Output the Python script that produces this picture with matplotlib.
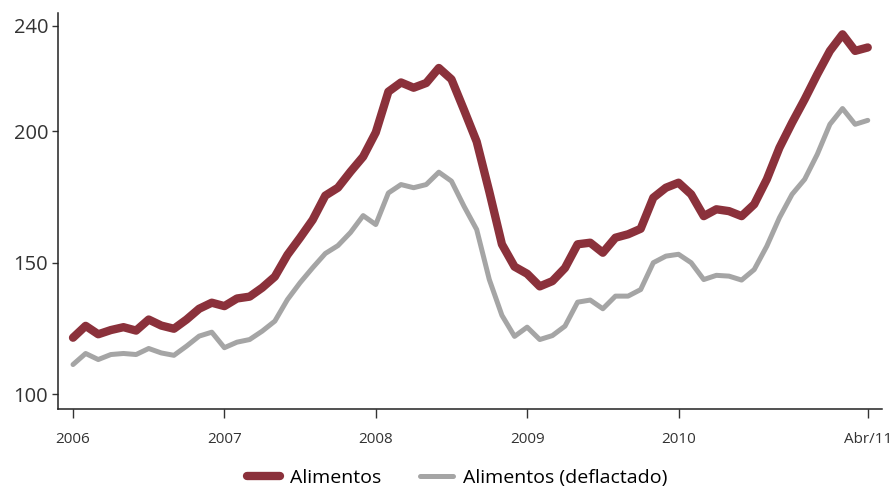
import numpy as np
import matplotlib.pyplot as plt

# indice mensual, ene/2006 .. abr/2011
alimentos = [121.5, 126, 122.8, 124.4, 125.5, 124.2, 128.4, 126.1, 124.9, 128.4,
             132.5, 134.8, 133.5, 136.4, 137.1, 140.5, 144.7, 153, 159.5, 166.3,
             175.5, 178.5, 184.6, 190.3, 199.5, 215, 218.5, 216.5, 218.3, 224,
             219.7, 208, 196, 177, 157, 148.5, 145.8, 141, 143, 148,
             157, 157.6, 153.8, 159.5, 160.8, 162.9, 174.7, 178.5, 180.4, 176,
             167.7, 170.3, 169.6, 167.7, 172.2, 181.7, 193.7, 203.2, 212.1, 221.6,
             230.5, 236.8, 230.5, 231.8]
deflactado = [111.3, 115.5, 113.2, 115.1, 115.5, 115.1, 117.4, 115.7, 114.8, 118.3,
              122.1, 123.6, 117.7, 119.8, 120.8, 124, 127.8, 136, 142.4, 148.1,
              153.5, 156.5, 161.5, 167.9, 164.5, 176.5, 179.7, 178.5, 179.7, 184.4,
              181, 171.4, 162.6, 143.6, 130, 122, 125.5, 120.8, 122.3, 125.9,
              135, 135.8, 132.5, 137.3, 137.3, 139.8, 150, 152.5, 153.2, 150,
              143.6, 145.2, 144.9, 143.4, 147.4, 156.3, 167.1, 176, 181.7, 191.2,
              202.6, 208.6, 202.6, 204.1]
xtick_pos = [0, 12, 24, 36, 48, 63]
xtick_lab = ['2006', '2007', '2008', '2009', '2010', 'Abr/11']
ytick_pos = [100, 150, 200, 240]

plt.rcParams['font.family'] = ['Open Sans', 'DejaVu Sans']

fig = plt.figure(figsize=(8.95, 4.91), dpi=100)
ax = fig.add_axes([58 / 895, 1 - 409 / 491, 824 / 895, 396 / 491])

x = np.arange(len(alimentos))
ax.plot(x, alimentos, color='#8b313b', lw=6, solid_capstyle='round',
        solid_joinstyle='round', label='Alimentos', zorder=3)
ax.plot(x, deflactado, color='#a5a5a5', lw=3.6, solid_capstyle='round',
        solid_joinstyle='round', label='Alimentos (deflactado)', zorder=2)

ax.set_xlim(-1.19, 64.13)
ax.set_ylim(94.4, 244.9)

for s in ['top', 'right']:
    ax.spines[s].set_visible(False)
for s in ['left', 'bottom']:
    ax.spines[s].set_color('#222222')
    ax.spines[s].set_linewidth(1.1)

ax.set_yticks(ytick_pos)
ax.set_yticklabels([str(v) for v in ytick_pos], fontsize=14.5, color='#333333')
ax.tick_params(axis='y', length=4, width=1, color='#333333', pad=3)

ax.set_xticks(xtick_pos)
ax.set_xticklabels(xtick_lab, fontsize=11, color='#333333')
ax.tick_params(axis='x', length=6.5, width=1, color='#333333', pad=10)

fig.legend(loc='center', bbox_to_anchor=(0.511, 0.0265), ncol=2, frameon=False,
           fontsize=14, handlelength=1.7, handletextpad=0.5, columnspacing=2.0)

fig.savefig('out.png', dpi=100)
